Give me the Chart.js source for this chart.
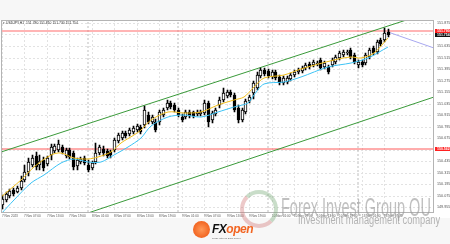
<!DOCTYPE html>
<html>
<head>
<meta charset="utf-8">
<script src="https://cdn.jsdelivr.net/npm/chart.js@4.4.0/dist/chart.umd.min.js"></script>
<style>
  html, body { margin: 0; padding: 0; background: #f7f7f7; }
  #wrap { position: relative; width: 450px; height: 244px; overflow: hidden; }
  #panel { position: absolute; left: 0; top: 20px; width: 450px; height: 198px; background: #fff; }
  #chart { position: absolute; left: 0; top: 0; }
  .wm { position: absolute; white-space: nowrap; transform-origin: 0 0; pointer-events: none; }
  #wmTitle { left: 281px; top: 192px; font: 26px "Liberation Sans Narrow", "Liberation Sans", sans-serif; color: rgba(150,150,150,0.6); }
  #wmSub { left: 298px; top: 213px; font: 12px "Liberation Sans", sans-serif; color: rgba(150,150,150,0.7); }
  #wmRing { position: absolute; left: 240px; top: 190px; width: 30px; height: 30px; border-radius: 50%;
            border: 4px solid rgba(120,170,120,0.4); border-left-color: rgba(210,120,120,0.4); border-bottom-color: rgba(210,120,120,0.4); }
  #fxLogo { position: absolute; left: 193px; top: 221px; width: 17px; height: 17px; border-radius: 50%;
            background: radial-gradient(circle, #ff9a5a 0%, #f26522 70%); }
  #fxText { position: absolute; left: 212px; top: 222px; font: italic bold 12px "Liberation Sans", sans-serif; letter-spacing: -0.5px; }
  #fxText .fx { color: #111; }
  #fxText .op { color: #f26522; }
  #fxTag { position: absolute; left: 212px; top: 237px; font: 2.5px "Liberation Sans", sans-serif; color: #666; }
</style>
</head>
<body>
<div id="wrap">
  <div id="panel"></div>
  <canvas id="chart" width="450" height="244"></canvas>
  <div id="wmRing"></div>
  <div class="wm" id="wmTitle">Forex Invest Group OU</div>
  <div class="wm" id="wmSub">Investment management company</div>
  <div id="fxLogo"></div>
  <div id="fxText"><span class="fx">FX</span><span class="op">open</span></div>
  <div id="fxTag">Trade with an ECN broker</div>
</div>
<script>
// USDJPY H1, bars counted from 7 Nov 00:00 (weekend skipped)
const firstBar = 1;

const opens = [149.98,150.03,150.07,150.14,150.11,150.16,150.24,150.32,150.40,150.49,
  150.40,150.45,150.41,150.50,150.54,150.55,150.58,150.49,150.55,150.52,
  150.38,150.43,150.47,150.40,150.36,150.43,150.52,150.56,150.54,150.53,
  150.55,150.65,150.68,150.73,150.72,150.74,150.76,150.79,150.81,150.92,
  150.84,150.84,150.84,150.92,150.99,151.04,151.02,150.97,150.90,150.90,
  150.95,150.95,150.93,150.93,150.94,151.04,150.86,150.93,151.02,151.07,
  151.11,151.16,151.12,150.99,150.86,150.95,151.06,151.15,151.20,151.32,
  151.39,151.37,151.31,151.36,151.31,151.25,151.26,151.29,151.33,151.36,
  151.37,151.41,151.45,151.44,151.45,151.49,151.42,151.42,151.44,151.47,
  151.51,151.54,151.56,151.59,151.54,151.44,151.47,151.46,151.52,151.61,
  151.57,151.70,151.70,151.78];
const highs = [150.08,150.11,150.15,150.16,150.18,150.28,150.40,150.47,150.50,150.53,
  150.50,150.48,150.49,150.61,150.61,150.66,150.60,150.57,150.57,150.54,
  150.47,150.48,150.49,150.45,150.44,150.62,150.60,150.59,150.56,150.55,
  150.68,150.73,150.75,150.75,150.78,150.80,150.82,150.81,151.01,150.95,
  150.92,150.87,150.97,150.99,151.07,151.06,151.04,150.99,150.93,150.97,
  150.97,150.96,150.97,150.97,151.07,151.06,150.96,150.99,151.10,151.20,
  151.18,151.18,151.15,151.02,150.99,151.08,151.12,151.27,151.36,151.41,
  151.41,151.40,151.39,151.39,151.33,151.32,151.32,151.35,151.39,151.41,
  151.43,151.46,151.47,151.49,151.48,151.51,151.48,151.44,151.51,151.54,
  151.58,151.59,151.59,151.61,151.56,151.49,151.49,151.56,151.61,151.63,
  151.70,151.72,151.82,151.81];
const lows = [149.94,150.01,150.05,150.07,150.10,150.14,150.22,150.28,150.37,150.34,
  150.34,150.33,150.39,150.45,150.52,150.53,150.51,150.47,150.46,150.34,
  150.34,150.41,150.40,150.32,150.34,150.41,150.50,150.49,150.47,150.47,
  150.53,150.62,150.66,150.68,150.70,150.72,150.74,150.72,150.78,150.82,
  150.82,150.74,150.81,150.90,150.97,150.98,150.95,150.90,150.84,150.87,
  150.89,150.89,150.91,150.91,150.92,150.79,150.83,150.91,150.99,151.05,
  151.09,151.10,150.95,150.83,150.84,150.93,151.04,151.08,151.18,151.30,
  151.32,151.30,151.29,151.28,151.23,151.23,151.24,151.27,151.31,151.34,
  151.35,151.39,151.40,151.42,151.43,151.39,151.40,151.34,151.42,151.45,
  151.49,151.52,151.54,151.50,151.45,151.41,151.42,151.44,151.50,151.54,
  151.55,151.63,151.68,151.73];
const closes = [150.04,150.09,150.12,150.09,150.16,150.23,150.32,150.43,150.47,150.37,
  150.44,150.36,150.47,150.58,150.59,150.61,150.53,150.55,150.48,150.37,
  150.45,150.46,150.42,150.34,150.42,150.52,150.58,150.52,150.49,150.50,
  150.66,150.71,150.73,150.70,150.76,150.78,150.80,150.74,150.97,150.84,
  150.90,150.76,150.95,150.97,151.04,151.00,150.97,150.92,150.86,150.95,
  150.91,150.91,150.95,150.95,151.04,150.84,150.94,150.97,151.07,151.15,
  151.16,151.12,150.97,150.86,150.97,151.06,151.10,151.25,151.33,151.39,
  151.34,151.32,151.36,151.30,151.25,151.30,151.30,151.33,151.36,151.39,
  151.41,151.44,151.42,151.47,151.46,151.41,151.46,151.36,151.49,151.52,
  151.56,151.57,151.57,151.52,151.47,151.47,151.44,151.54,151.59,151.56,
  151.68,151.66,151.77,151.75];

// moving averages (bar position, price)
const fastMaBars = [0.8,6.1,9.6,14.1,16.8,20.3,24,26.7,30.1,32.8,36.3,38.1,40.8,45.3,49.6,54.1,58.7,62.9,65.6,68.3,71,76.3,80.8,89.6,94.1,96.8,100.3,104];
const fastMaValues = [150.06,150.24,150.37,150.50,150.52,150.47,150.46,150.48,150.53,150.62,150.71,150.76,150.86,150.95,150.94,150.95,151.02,151.07,151.10,151.21,151.30,151.33,151.40,151.49,151.52,151.51,151.56,151.72];
const slowMaBars = [0.8,4.3,8.8,12.3,16.8,20.3,24,27.5,30.9,34.7,38.1,40.8,45.3,49.6,54.1,58.7,62.9,66.7,68.3,71,76.3,80.8,88,94.1,98.7,104];
const slowMaValues = [149.88,150.03,150.21,150.29,150.42,150.46,150.43,150.43,150.50,150.58,150.68,150.80,150.90,150.92,150.90,150.95,151.00,151.04,151.12,151.24,151.26,151.31,151.42,151.46,151.51,151.62];

// drawn objects
const channelUpperBars = [0, 116.3];
const channelUpperValues = [150.52, 152.00];
const channelLowerBars = [24, 116.3];
const channelLowerValues = [149.895, 151.10];
const trendBars = [104, 116.3];
const trendValues = [151.78, 151.61];
const levelHigh = 151.790;
const levelLow = 150.562;
const bidPrice = 151.754;
const daySeparators = [24, 48, 72, 96];

const xTickBars = [1,7,13,19,25,31,37,43,49,55,61,67,73,79,85,91,97,103];
const xTickLabels = ['7 Nov 2023','7 Nov 07:00','7 Nov 13:00','7 Nov 19:00','8 Nov 01:00','8 Nov 07:00',
  '8 Nov 13:00','8 Nov 19:00','9 Nov 01:00','9 Nov 07:00','9 Nov 13:00','9 Nov 19:00',
  '10 Nov 01:00','10 Nov 07:00','10 Nov 13:00','10 Nov 19:00','13 Nov 01:00','13 Nov 07:00'];
const yTickValues = [149.955,150.075,150.195,150.315,150.435,150.555,150.675,150.795,150.915,
  151.035,151.155,151.275,151.395,151.515,151.635,151.755,151.875];

const yMin = 149.906, yMax = 151.906;
const xMin = 0.8, xMax = 116.27;
const fam = '"Liberation Sans", Arial, sans-serif';

const bars = opens.map((_, i) => firstBar + i);
const wicks = bars.map((b, i) => ({ x: b, y: [lows[i], highs[i]] }));
const upBodies = [], downBodies = [];
bars.forEach((b, i) => {
  const body = { x: b, y: [opens[i], closes[i]] };
  if (closes[i] >= opens[i]) upBodies.push(body); else downBodies.push(body);
});
const pts = (xs, ys) => xs.map((x, i) => ({ x: x, y: ys[i] }));

function line(data, color, width, order, extra) {
  return Object.assign({ type: 'line', data: data, borderColor: color, borderWidth: width,
    pointRadius: 0, fill: false, order: order }, extra || {});
}

const datasets = [
  line(pts(fastMaBars, fastMaValues), '#f0bd1a', 1, 1, { tension: 0.3 }),
  line(pts(slowMaBars, slowMaValues), '#3cc3f5', 1, 1, { tension: 0.3 }),
  { type: 'bar', data: upBodies, backgroundColor: '#fff', borderColor: '#000', borderWidth: 1,
    borderSkipped: false, barThickness: 3, grouped: false, order: 2, candle: true },
  { type: 'bar', data: downBodies, backgroundColor: '#000', borderColor: '#000', borderWidth: 1,
    borderSkipped: false, barThickness: 3, grouped: false, order: 2, candle: true },
  { type: 'bar', data: wicks, backgroundColor: '#000', borderWidth: 0, barThickness: 1,
    grouped: false, order: 3, candle: true },
  line(pts(channelUpperBars, channelUpperValues), '#3a9a3a', 1, 4),
  line(pts(channelLowerBars, channelLowerValues), '#3a9a3a', 1, 4),
  line(pts(trendBars, trendValues), '#a8a8f0', 1, 4),
  line(pts([xMin, xMax], [levelHigh, levelHigh]), 'rgba(255,120,120,0.55)', 2, 4),
  line(pts([xMin, xMax], [levelLow, levelLow]), '#ff5a5a', 1, 4)
];
daySeparators.forEach(d => {
  datasets.push(line(pts([d, d], [yMin, yMax]), '#bdbdbd', 1, 5, { borderDash: [2, 2] }));
});

// candles sit on whole pixels, shift them half a pixel so 1px wicks and 3px bodies stay sharp
const crispPlugin = {
  id: 'crisp',
  beforeDatasetDraw(chart, args) {
    if (chart.data.datasets[args.index].candle) { chart.ctx.save(); chart.ctx.translate(0.5, 0); }
  },
  afterDatasetDraw(chart, args) {
    if (chart.data.datasets[args.index].candle) chart.ctx.restore();
  }
};

const framePlugin = {
  id: 'frame',
  afterDatasetsDraw(chart) {
    const a = chart.chartArea, ctx = chart.ctx;
    ctx.save();
    ctx.strokeStyle = '#b4b4b4';
    ctx.lineWidth = 1;
    ctx.strokeRect(Math.round(a.left) + 0.5, Math.round(a.top) + 0.5,
      Math.round(a.right - a.left) - 1, Math.round(a.bottom - a.top));
    ctx.restore();
  },
  afterDraw(chart) {
    const ctx = chart.ctx, y = chart.scales.y, a = chart.chartArea;
    ctx.save();
    // header
    ctx.fillStyle = '#333';
    ctx.font = '3.4px ' + fam;
    ctx.textBaseline = 'middle';
    ctx.fillText('\u25BE USDJPY,H1  151.780 151.810 151.730 151.754', a.left + 2, a.top + 3);
    // price tags on the right axis
    const tag = (price, bg) => {
      const py = y.getPixelForValue(price);
      ctx.fillStyle = bg;
      ctx.fillRect(a.right + 1, py - 2, 15, 4);
      ctx.fillStyle = '#fff';
      ctx.font = 'bold 3.5px ' + fam;
      ctx.fillText(price.toFixed(3), a.right + 3, py);
    };
    tag(levelLow, '#ff2020');
    tag(levelHigh, '#ff2020');
    tag(bidPrice, '#111');
    ctx.restore();
  }
};

new Chart(document.getElementById('chart'), {
  type: 'bar',
  data: { datasets: datasets },
  options: {
    responsive: false,
    animation: false,
    layout: { padding: { top: 20, left: 1, right: 0, bottom: 22 } },
    plugins: { legend: { display: false }, tooltip: { enabled: false } },
    scales: {
      x: {
        type: 'linear', min: xMin, max: xMax, offset: false, alignToPixels: true,
        afterBuildTicks: s => { s.ticks = xTickBars.map(v => ({ value: v })); },
        afterFit: s => { s.height = 10; },
        ticks: { align: 'start', autoSkip: false, maxRotation: 0, padding: 2, color: '#555',
          font: { size: 3.1, family: fam }, callback: (v, i) => xTickLabels[i] },
        grid: { color: '#e2e2e2', drawTicks: false, offset: false },
        border: { display: false, dash: [2, 2] }
      },
      y: {
        position: 'right', min: yMin, max: yMax, alignToPixels: true,
        afterBuildTicks: s => { s.ticks = yTickValues.map(v => ({ value: v })); },
        afterFit: s => { s.width = 16; },
        ticks: { autoSkip: false, padding: 3, color: '#555',
          font: { size: 3.7, family: fam }, callback: v => v.toFixed(3) },
        grid: { color: '#e2e2e2', drawTicks: false },
        border: { display: false, dash: [2, 2] }
      }
    }
  },
  plugins: [crispPlugin, framePlugin]
});

// squeeze the watermark texts to their widths in the picture
function fitWidth(id, w) {
  const el = document.getElementById(id);
  el.style.transform = 'scaleX(' + (w / el.offsetWidth) + ')';
}
fitWidth('wmTitle', 150);
fitWidth('wmSub', 142);
</script>
</body>
</html>
